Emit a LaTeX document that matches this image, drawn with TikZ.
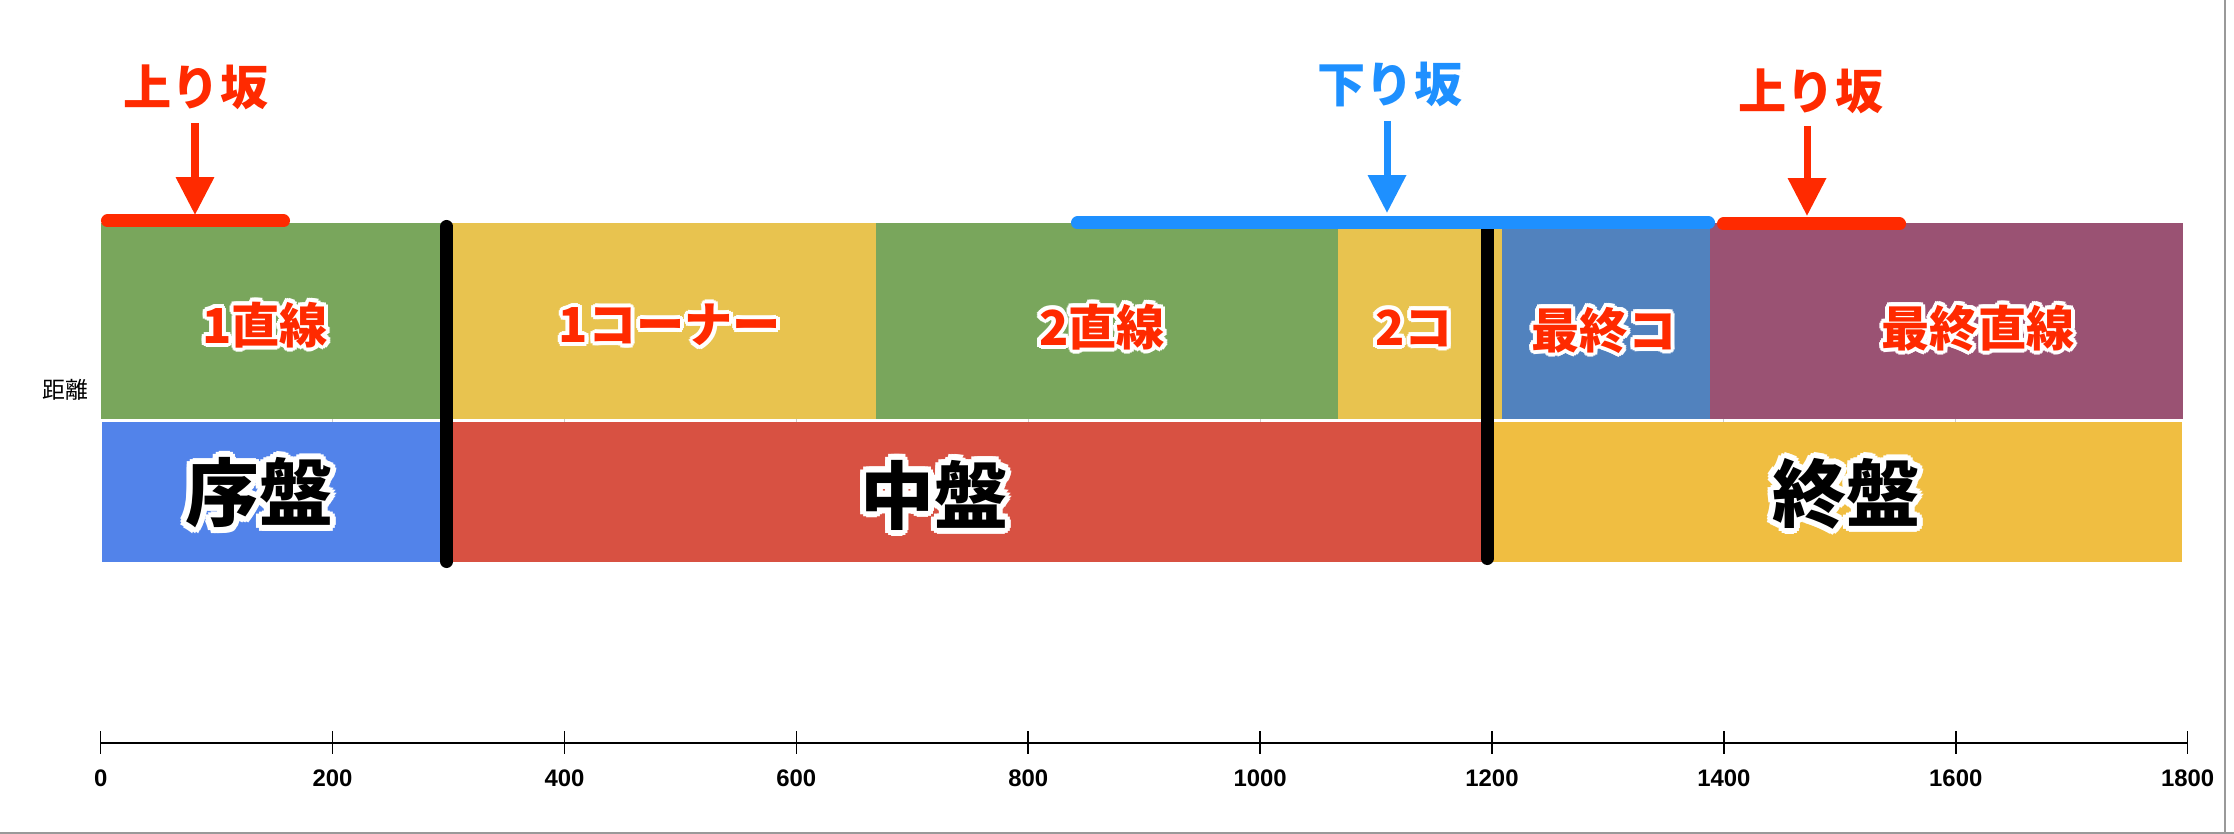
\documentclass[tikz,border=0pt]{standalone}
\usepackage{fontspec}
\setmainfont{Liberation Sans}
\newfontfamily\jp{Noto Sans CJK JP}[BoldFont={Noto Sans CJK JP Black}]
\usetikzlibrary{arrows.meta}
\definecolor{slopered}{HTML}{FF2A00}
\definecolor{slopeblue}{HTML}{1E90FF}
\definecolor{stgreen}{HTML}{79A65C}
\definecolor{cnyellow}{HTML}{E8C34F}
\definecolor{fcblue}{HTML}{5182BE}
\definecolor{fspurple}{HTML}{9A5273}
\definecolor{jobanblue}{HTML}{5283EA}
\definecolor{chubanred}{HTML}{D85142}
\definecolor{shubanyellow}{HTML}{F0BE41}
\newcommand\halonode[5]{% name, position, style, halo radius, text
  \node[#3, text=black!30] at ([shift={(2,2)}]#2) {#5};
  \foreach \a in {0,30,...,330}
    \node[#3, text=white] at ([shift={(\a:#4)}]#2) {#5};
  \node[#3] (#1) at (#2) {#5};}
\tikzset{
  seglbl/.style={font=\jp\bfseries\fontsize{13.7pt}{14pt}\selectfont, text=slopered},
  phaselbl/.style={font=\jp\bfseries\fontsize{21pt}{22pt}\selectfont, text=black},
  phasebar/.style={line width=3.7pt, line cap=round, black},
  slopebar/.style={line width=3.7pt, line cap=round, draw=#1},
  slopearrow/.style={line width=2pt, draw=#1, -{Triangle[width=10.5pt, length=10.8pt]}},
  ticklbl/.style={font=\bfseries\fontsize{6.8pt}{7pt}\selectfont}
}
\begin{document}
\begin{tikzpicture}[x=0.01cm, y=-0.01cm]
  \useasboundingbox (0,0) rectangle (2234,834);
  \foreach \d in {200,400,...,1600}{
    \pgfmathsetmacro\px{100.7+1.1594*\d}
    \draw[black!20, line width=0.3pt] (\px,223) -- (\px,562);
  }
  \foreach \l/\r/\c in {101/447/stgreen, 447/876/cnyellow, 876/1338/stgreen, 1338/1502/cnyellow, 1502/1710/fcblue, 1710/2183/fspurple}
    \fill[\c] (\l,223) rectangle (\r,419);
  \foreach \l/\r/\c in {102/447/jobanblue, 447/1489/chubanred, 1489/2182/shubanyellow}
    \fill[\c] (\l,422) rectangle (\r,562);
  \draw[phasebar] (446.7,226.5) -- (446.7,561.5);
  \draw[phasebar] (1487,224) -- (1487,558.5);
  \draw[slopebar=slopered] (107.5,221) -- (283.5,221);
  \draw[slopebar=slopeblue] (1077.5,223) -- (1708.5,223);
  \draw[slopebar=slopered] (1723.5,224) -- (1899.5,224);
  \coordinate (up1 tail) at (195,123);
  \coordinate (up1 tip) at (195,215);
  \coordinate (down tail) at (1387,121);
  \coordinate (down tip) at (1387,213);
  \coordinate (up2 tail) at (1807,126);
  \coordinate (up2 tip) at (1807,216);
  \draw[slopearrow=slopered] (up1 tail) -- (up1 tip);
  \draw[slopearrow=slopeblue] (down tail) -- (down tip);
  \draw[slopearrow=slopered] (up2 tail) -- (up2 tip);
  \halonode{up1}{196,87}{seglbl}{4}{上り坂}
  \halonode{down}{1390,84}{seglbl, text=slopeblue}{4}{下り坂}
  \halonode{up2}{1811,91}{seglbl}{4}{上り坂}
  \halonode{st1}{265,325}{seglbl}{4}{1直線}
  \halonode{cn1}{670,325}{seglbl}{4}{1コーナー}
  \halonode{st2}{1102,327}{seglbl}{4}{2直線}
  \halonode{cn2}{1414,328}{seglbl}{4}{2コ}
  \halonode{fc}{1604,330}{seglbl}{4}{最終コ}
  \halonode{fs}{1978,328}{seglbl}{4}{最終直線}
  \halonode{joban}{259,493}{phaselbl}{6}{序盤}
  \halonode{chuban}{934,495}{phaselbl}{6}{中盤}
  \halonode{shuban}{1846,494}{phaselbl}{6}{終盤}
  \node[font=\jp\fontsize{6.5pt}{7pt}\selectfont] (kyori) at (65,390) {距離};
  \draw[line width=0.5pt] (100.7,743) -- (2187,743);
  \foreach \d in {0,200,...,1800}{
    \pgfmathsetmacro\px{100.7+1.1594*\d}
    \draw[line width=0.45pt] (\px,731) -- (\px,754);
    \node[ticklbl] (t\d) at (\px,778) {\d};
  }
  \draw[black!40, line width=0.6pt] (2225,0) -- (2225,834);
  \draw[black!40, line width=0.6pt] (0,833) -- (2234,833);
\end{tikzpicture}
\end{document}
